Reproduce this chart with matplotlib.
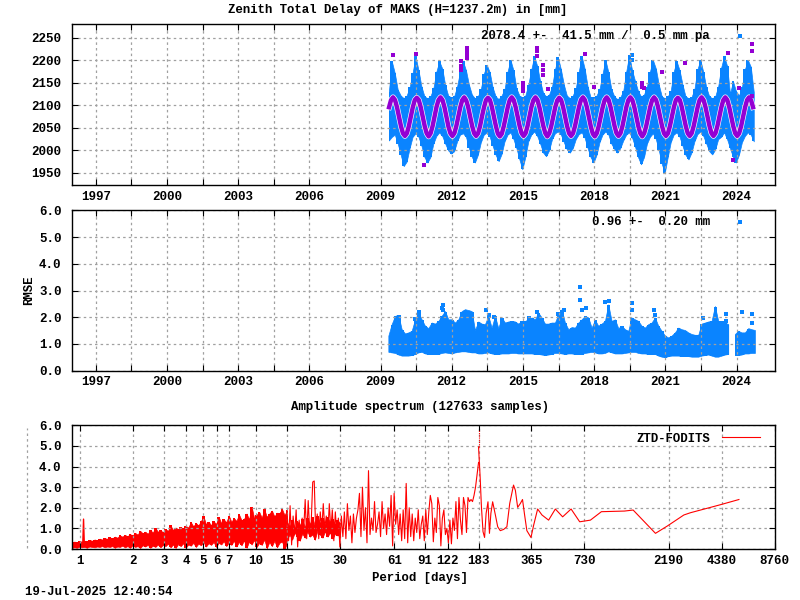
import matplotlib
matplotlib.use("Agg")
import matplotlib.pyplot as plt
from matplotlib.lines import Line2D
import numpy as np

# ZTD band, one value per 1/8 year from 2009.35
ztd_start = 2009.35
ztd_upper = [2130,2198,2172,2135,2122,2116,2122,2140, 2172,2209,2178,2142,2120,2116,2120,2138,
             2175,2198,2182,2145,2122,2118,2120,2142, 2176,2198,2178,2146,2124,2116,2120,2136,
             2170,2190,2174,2140,2120,2114,2122,2136, 2175,2201,2178,2138,2122,2118,2122,2146,
             2180,2209,2188,2154,2128,2120,2124,2142, 2180,2207,2180,2146,2122,2116,2122,2138,
             2175,2209,2182,2142,2118,2118,2122,2136, 2170,2201,2174,2136,2120,2114,2118,2132,
             2175,2212,2178,2154,2132,2120,2124,2142, 2175,2201,2182,2146,2120,2116,2120,2132,
             2175,2198,2178,2146,2120,2116,2118,2136, 2180,2201,2174,2140,2120,2116,2120,2142,
             2184,2210,2188,2126,2154,2132,2122,2140, 2180,2201,2186,2130]
ztd_lower = [2022,2030,2035,2015,1990,1965,1975,2005, 2030,2038,2030,2010,1985,1973,1985,2015,
             2032,2040,2032,2015,2000,1993,1998,2020, 2035,2038,2030,2005,1985,1973,1990,2018,
             2035,2040,2030,2010,1990,1976,1992,2020, 2035,2040,2025,2005,1980,1958,1985,2020,
             2035,2042,2032,2015,1995,1987,2000,2025, 2038,2042,2035,2018,2002,1995,2005,2025,
             2036,2040,2028,2005,1985,1973,1990,2018, 2035,2042,2035,2015,2003,1995,2005,2022,
             2035,2040,2028,2008,1985,1969,1985,2015, 2030,2038,2025,2000,1970,1950,1985,2018,
             2035,2040,2030,2010,1990,1980,1995,2020, 2036,2042,2032,2015,1998,1991,2002,2025,
             2030,2040,2025,2005,1985,1973,1990,2018, 2032,2040,2035,2020]

# Model curve, one value per month from 2009.36
model_start = 2009.36
model_ztd = [2096,2112,2118,2112,2096,2075,2054,2038,2032,2038,2054,2075,
             2096,2112,2117,2112,2096,2075,2054,2038,2031,2038,2054,2075,
             2097,2112,2118,2112,2096,2074,2053,2038,2032,2038,2054,2075,
             2096,2112,2118,2111,2096,2075,2054,2038,2032,2038,2054,2076,
             2096,2112,2117,2112,2096,2075,2054,2037,2031,2037,2054,2075,
             2096,2112,2118,2112,2096,2075,2054,2038,2032,2038,2054,2075,
             2097,2112,2118,2112,2096,2075,2054,2038,2031,2038,2054,2075,
             2096,2111,2117,2112,2096,2075,2054,2038,2032,2038,2054,2075,
             2096,2112,2118,2112,2096,2075,2053,2037,2031,2038,2054,2075,
             2096,2112,2118,2112,2096,2075,2054,2038,2032,2038,2054,2075,
             2097,2112,2118,2112,2096,2075,2054,2038,2031,2038,2054,2075,
             2096,2112,2118,2112,2096,2075,2054,2038,2032,2038,2054,2075,
             2096,2112,2117,2112,2096,2075,2054,2038,2032,2038,2054,2075,
             2096,2112,2118,2112,2096,2075,2054,2038,2032,2038,2054,2075,
             2096,2112,2118,2112,2096,2075,2054,2038,2032,2038,2054,2075,
             2096,2112,2118,2112,2096]

ztd_out_years = [2009.53,2010.50,2012.37,2012.37,2012.37,2012.65,2012.65,2012.65,2012.65,
                 2015.60,2015.60,2015.60,2015.83,2015.83,2015.83,2015.00,2015.00,2015.00,
                 2016.06,2010.85,2017.60,2017.98,2020.02,2020.02,2020.12,2020.86,2021.82,
                 2023.64,2024.65,2024.65,2023.85,2024.09,2024.65]
ztd_out_values = [2212,2214,2198,2188,2179,2227,2220,2212,2206,
                  2227,2220,2210,2190,2179,2168,2150,2142,2133,
                  2136,1968,2214,2141,2150,2142,2139,2174,2194,
                  2216,2236,2220,1978,2139,2120]
ztd_blue_years = [2019.60,2019.60]
ztd_blue_values = [2212,2201]

# RMSE band, one value per 0.14 year from 2009.35
rmse_start = 2009.35
rmse_step = 0.1404
rmse_upper = [1.29,1.72,2.03,2.07,1.53,1.37,1.41,1.47,1.90,2.15,1.90,1.66,1.57,1.78,1.74,1.84,
              2.03,2.21,1.90,1.90,1.78,1.90,2.21,2.28,2.25,2.21,1.50,1.82,1.74,1.72,2.03,1.59,
              2.03,1.57,1.97,1.78,1.82,1.84,1.82,1.74,1.84,1.84,1.90,1.97,1.90,2.15,1.97,1.74,
              1.74,1.78,1.78,2.09,2.28,1.78,1.53,1.61,1.59,1.78,1.90,2.03,1.97,1.59,1.88,1.66,
              1.74,1.84,2.46,1.84,1.90,1.57,1.66,1.53,1.47,1.97,1.90,1.84,1.66,1.59,1.72,1.78,
              1.97,1.66,1.47,1.29,1.22,1.29,1.41,1.59,1.53,1.50,1.41,1.35,1.32,1.32,1.74,1.78,
              1.82,1.84,2.40,1.84,1.84,1.78,1.72,float("nan"),1.35,1.47,1.41,1.41,1.57,1.53,1.50]
rmse_lower = [0.68,0.66,0.64,0.58,0.54,0.54,0.54,0.56,0.60,0.66,0.68,0.62,0.60,0.60,0.60,0.60,
              0.64,0.66,0.64,0.62,0.66,0.68,0.70,0.70,0.68,0.66,0.66,0.62,0.62,0.64,0.66,0.62,
              0.60,0.60,0.62,0.62,0.62,0.64,0.64,0.62,0.62,0.62,0.62,0.62,0.60,0.60,0.58,0.56,
              0.58,0.60,0.64,0.64,0.62,0.60,0.62,0.62,0.60,0.60,0.60,0.64,0.66,0.68,0.66,0.62,
              0.62,0.64,0.70,0.66,0.62,0.62,0.62,0.64,0.66,0.68,0.68,0.64,0.62,0.62,0.60,0.60,
              0.60,0.54,0.50,0.48,0.52,0.54,0.54,0.54,0.52,0.52,0.52,0.50,0.50,0.50,0.54,0.56,
              0.58,0.54,0.50,0.50,0.54,0.58,0.60,float("nan"),0.56,0.56,0.58,0.62,0.62,0.64,0.64]
rmse_out_years = [2017.41,2017.41,2017.49,2017.66,2018.47,2018.61,2019.60,2019.60,2020.53,2020.55,
                  2013.45,2013.56,2011.63,2011.59,2011.63,2010.62,2024.23,2024.65,2024.65,2023.56,
                  2023.56,2022.59,2010.44,2015.24,2015.60,2016.47,2016.72,2013.77]
rmse_out_values = [3.12,2.64,2.26,2.34,2.57,2.59,2.52,2.26,2.26,2.09,
                   2.26,2.07,2.46,2.34,2.26,2.21,2.21,2.12,1.78,2.12,
                   1.84,1.97,1.93,1.97,2.19,2.12,2.28,2.00]

# Spectrum, short periods: solid band between two edges, 0.9 to 15 days
dense_top = [0.30,0.36,0.33,0.38,0.36,0.40,0.38,0.44,0.40,0.46,0.43,0.50,0.46,0.52,0.50,0.56,
             0.52,0.60,0.55,0.66,0.60,0.68,0.62,0.72,0.66,0.78,0.70,0.88,0.76,0.84,0.74,0.92,
             0.80,1.02,0.84,0.90,0.82,0.96,0.88,1.14,0.92,1.04,0.96,1.06,1.00,1.12,1.04,1.30,
             1.10,1.26,1.14,1.36,1.58,1.20,1.32,1.16,1.34,1.22,1.56,1.26,1.44,1.30,1.62,1.32,
             1.50,1.36,1.68,1.40,1.46,1.72,1.44,2.05,1.50,1.66,1.80,1.52,1.92,1.56,1.72,1.86,
             1.58,1.76,1.74,1.94,1.64,1.90]
dense_low = [0.05,0.08,0.06,0.10,0.08,0.10,0.06,0.12,0.10,0.08,0.12,0.10,0.14,0.08,0.12,0.10,
             0.14,0.06,0.12,0.10,0.16,0.08,0.14,0.06,0.18,0.10,0.14,0.05,0.18,0.12,0.20,0.06,
             0.16,0.10,0.22,0.08,0.20,0.14,0.26,0.08,0.22,0.05,0.24,0.14,0.28,0.06,0.22,0.16,
             0.30,0.10,0.26,0.18,0.34,0.12,0.28,0.20,0.34,0.10,0.30,0.22,0.38,0.14,0.32,0.20,
             0.40,0.12,0.34,0.18,0.42,0.06,0.36,0.22,0.44,0.10,0.30,0.20,0.46,0.04,0.34,0.14,
             0.40,0.08,0.30,0.36,0.02,0.28]
spike_periods = [1.04,1.05,1.06]
spike_amps = [0.32,1.45,0.32]

# Spectrum, 15 to 30 days: the solid part under the peaks
core_top = [1.30,1.10,1.40,1.00,1.35,1.15,1.45,1.05,1.50,1.20,1.55,1.10,1.60,1.25,1.50,1.15,
            1.55,1.30,1.45,1.20,1.40,1.25]
core_low = [0.50,0.70,0.45,0.80,0.60,0.40,0.75,0.55,0.85,0.60,0.70,0.45,0.90,0.70,0.55,0.85,
            0.60,0.80,0.50,0.75,0.65,0.80]

# Spectrum, 15 to 183 days: alternating peaks and dips
mid_amps = [1.70,0.40,2.10,0.20,1.60,0.70,1.90,0.10,1.40,0.60,1.50,0.90,2.40,0.50,2.35,
            0.90,1.30,3.25,3.30,0.80,1.70,0.50,1.80,0.90,2.20,1.00,1.60,0.70,2.20,0.90,
            1.90,0.40,1.80,0.70,1.50,0.10,1.60,0.60,1.80,0.50,2.20,0.90,1.60,0.30,1.70,
            0.80,1.50,1.90,2.70,0.60,3.00,0.90,2.00,0.30,3.80,0.70,1.50,0.90,2.30,0.80,
            1.20,1.80,0.60,2.30,1.00,1.70,0.70,2.00,1.10,2.60,0.15,2.70,1.20,1.90,0.70,
            1.70,0.40,1.90,0.50,3.18,0.30,2.00,0.60,1.70,0.40,1.50,0.80,1.90,0.50,1.20,
            1.60,0.40,1.90,0.70,1.80,2.60,2.20,0.35,1.50,0.80,2.50,2.10,0.15,1.50,1.90,
            0.70,1.00,0.30,1.40,0.25,1.50,0.90,2.30,0.50,2.50,1.40,0.70,2.50,2.10,0.80,
            2.50,2.30,2.40,2.30,2.60,3.00,3.60,4.20]

# Spectrum, long periods
long_periods = [183,187,190,194,198,202,207,211,215,220,228,235,243,254,265,275,289,296,305,316,
                325,334,344,363,376,396,419,457,499,549,613,686,789,911,1231,1379,1846,2151,
                2675,2918,4322,5492]
long_amps = [4.95,3.42,2.05,0.84,0.56,1.73,2.29,0.76,1.73,2.29,1.65,1.08,0.89,0.95,1.08,2.21,
             3.10,2.85,2.02,2.21,2.40,1.65,0.89,0.56,1.16,1.94,1.65,1.40,1.94,1.56,1.94,1.32,
             1.40,1.81,1.84,1.89,0.76,1.11,1.65,1.76,2.15,2.40]
peak_top_periods = [183,183]
peak_top_amps = [4.95,5.75]

year_ticks = [1997 + 1.5 * i for i in range(19)]
year_labels = ["1997","","2000","","2003","","2006","","2009","","2012","","2015","","2018","","2021","","2024"]
ztd_ticks = [1950,2000,2050,2100,2150,2200,2250]
rmse_ticks = [0,1,2,3,4,5,6]
period_ticks = [1,2,3,4,5,6,7,10,15,30,61,91,122,183,365,730,2190,4380,8760]

BLUE = "#0a84ff"
VIOLET = "#9400d3"
RED = "#ff0000"
plt.rcParams["font.family"] = "Liberation Mono"
plt.rcParams["font.weight"] = "bold"

fig = plt.figure(figsize=(8, 6), dpi=100)


def make_axes(top, bottom):
    ax = fig.add_axes([72 / 800, 1 - bottom / 600, 703 / 800, (bottom - top) / 600])
    ax.tick_params(direction="in", top=True, right=True, length=4, width=0.8, labelsize=9)
    ax.tick_params(axis="y", pad=7.5)
    ax.tick_params(axis="x", pad=4)
    ax.grid(True, color="#a0a0a0", linewidth=0.9, linestyle=(0, (2, 2.5)), zorder=3)
    ax.set_axisbelow(False)
    for s in ax.spines.values():
        s.set_linewidth(1.0)
        s.set_zorder(6)
    return ax


def rough_band(ax, x, low, high, color):
    # linear and stepped fill together give the blocky edge of the dots
    ax.fill_between(x, low, high, color=color, linewidth=0.5, zorder=2)
    ax.fill_between(x, low, high, step="mid", color=color, linewidth=0, zorder=2)


# top panel
ax1 = make_axes(24, 185)
t = ztd_start + 0.125 * np.arange(len(ztd_upper))
rough_band(ax1, t, ztd_lower, ztd_upper, BLUE)
ax1.plot(ztd_blue_years, ztd_blue_values, "s", color=BLUE, ms=2.2, mew=0, zorder=2)
tm = model_start + np.arange(len(model_ztd)) / 12
ax1.plot(tm, model_ztd, color="white", lw=4.1, zorder=4)
ax1.plot(tm, model_ztd, color=VIOLET, lw=3.2, zorder=5)
ax1.plot(ztd_out_years, ztd_out_values, "s", color=VIOLET, ms=2.3, mew=0, zorder=5)
ax1.set_xlim(1996.0, 2025.62)
ax1.set_ylim(1923, 2281)
ax1.set_yticks(ztd_ticks)
ax1.set_xticks(year_ticks)
ax1.set_xticklabels(year_labels)
ax1.plot([0.9502], [0.925], "s", color=BLUE, ms=2.3, mew=0, transform=ax1.transAxes, zorder=6)

# middle panel
ax2 = make_axes(210.5, 370.5)
tr = rmse_start + rmse_step * np.arange(len(rmse_upper))
rough_band(ax2, tr, rmse_lower, rmse_upper, BLUE)
ax2.plot(rmse_out_years, rmse_out_values, "s", color=BLUE, ms=2.3, mew=0, zorder=2)
ax2.set_xlim(1996.0, 2025.62)
ax2.set_ylim(0, 6)
ax2.set_yticks(rmse_ticks)
ax2.set_yticklabels([f"{v:.1f}" for v in rmse_ticks])
ax2.set_xticks(year_ticks)
ax2.set_xticklabels(year_labels)
ax2.plot([0.9502], [0.925], "s", color=BLUE, ms=2.3, mew=0, transform=ax2.transAxes, zorder=6)

# spectrum
ax3 = make_axes(425.3, 549)
rough_band(ax3, np.geomspace(0.9, 15, len(dense_top)), dense_low, dense_top, RED)
rough_band(ax3, np.geomspace(15, 30, len(core_top)), core_low, core_top, RED)
ax3.plot(spike_periods, spike_amps, color=RED, lw=1, zorder=2)
p_mid = np.geomspace(15, 183, len(mid_amps))
ax3.plot(p_mid, mid_amps, color=RED, lw=0.8, zorder=4)
ax3.plot(long_periods, long_amps, color=RED, lw=0.8, zorder=4, label="ZTD-FODITS")
ax3.plot(peak_top_periods, peak_top_amps, color=RED, lw=0.8, ls=(0, (1, 1)), zorder=4)
ax3.set_xscale("log")
ax3.set_xlim(0.903, 8800)
ax3.set_ylim(0, 6)
ax3.set_yticks(rmse_ticks)
ax3.set_yticklabels([f"{v:.1f}" for v in rmse_ticks])
ax3.set_xticks(period_ticks)
ax3.set_xticklabels([str(v) for v in period_ticks])
ax3.minorticks_off()
ax3.legend(loc="upper right", bbox_to_anchor=(0.9925, 1.015), frameon=False, fontsize=8.9,
           markerfirst=False, handlelength=3.15, handletextpad=0.9, borderaxespad=0.35)


def put(x, y, s, size=8.9, ha="center", rotation=0):
    fig.text(x / 800, 1 - y / 600, s, fontsize=size, ha=ha, va="center", rotation=rotation)


put(398, 10, "Zenith Total Delay of MAKS (H=1237.2m) in [mm]")
put(481, 36, "2078.4 +-  41.5 mm /  0.5 mm pa", ha="left")
put(592, 222, "0.96 +-  0.20 mm", ha="left")
put(29, 290, "RMSE", rotation=90)
put(420, 407, "Amplitude spectrum (127633 samples)")
put(420, 578, "Period [days]")
put(25, 592, "19-Jul-2025 12:40:54", ha="left")

fig.add_artist(Line2D([27 / 800, 27 / 800], [1 - 548 / 600, 1 - 428 / 600], color="#a0a0a0",
                      lw=0.9, ls=(0, (2, 2.5))))

fig.savefig("out.png", dpi=100, facecolor="white")
